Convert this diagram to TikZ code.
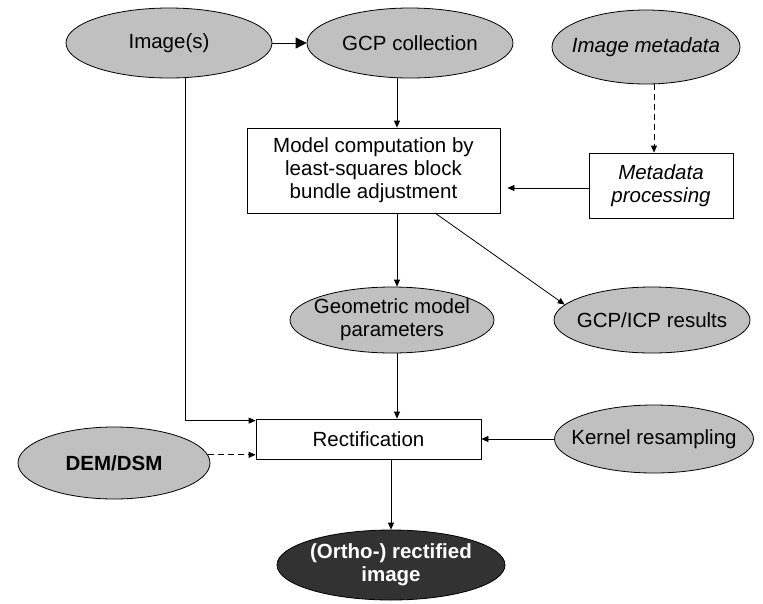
\documentclass[tikz,border=0pt]{standalone}
\usepackage{fontspec}
\setmainfont{Liberation Sans}
\usetikzlibrary{shapes.geometric,arrows.meta,calc}
\definecolor{ellgray}{RGB}{192,192,192}
\definecolor{darkell}{RGB}{50,50,50}
\begin{document}
\begin{tikzpicture}[x=1pt,y=-1pt,
  every node/.style={font=\fontsize{20.5}{23}\selectfont, align=center, inner sep=0pt},
  ell/.style={ellipse, draw=black, line width=0.8pt, fill=ellgray, inner xsep=-60pt, inner ysep=-25pt},
  darkellipse/.style={ellipse, draw=black, line width=0.8pt, fill=darkell, text=white, inner xsep=-60pt, inner ysep=-25pt, font=\fontsize{20.5}{23}\selectfont\bfseries},
  box/.style={rectangle, draw=black, line width=0.8pt, fill=white},
  arr/.style={line width=0.8pt, -{Triangle[length=7pt,width=6pt]}},
  bigarr/.style={line width=0.8pt, -{Triangle[length=11pt,width=11pt]}},
  dasharr/.style={line width=0.8pt, dash pattern=on 6pt off 4pt, -{Triangle[length=7pt,width=6pt]}}
]
\useasboundingbox (0,0) rectangle (763,603);
\fill[white] (0,0) rectangle (763,603);

\node[ell, minimum width=206, minimum height=70] (img) at (169,43) {Image(s)};
\node[ell, minimum width=206, minimum height=70] (gcp) at (410,43) {GCP collection};
\node[ell, minimum width=188, minimum height=74, font=\fontsize{20.5}{23}\selectfont\itshape] (meta) at (646,47) {Image metadata};
\node[box, minimum width=253, minimum height=85] (model) at (373.5,170.5) {Model computation by\\least-squares block\\bundle adjustment};
\node[box, minimum width=144, minimum height=65, font=\fontsize{20.5}{23}\selectfont\itshape] (mproc) at (661,185.5) {Metadata\\processing};
\node[ell, minimum width=204, minimum height=66] (geo) at (392,320) {Geometric model\\parameters};
\node[ell, minimum width=196, minimum height=66] (gcpicp) at (652,320) {GCP/ICP results};
\node[box, minimum width=225, minimum height=40] (rect) at (368.5,439) {Rectification};
\node[ell, minimum width=199, minimum height=68] (kern) at (654,439) {Kernel resampling};
\node[ell, minimum width=192, minimum height=72, font=\fontsize{20.5}{23}\selectfont\bfseries] (dem) at (114,463) {DEM/DSM};
\node[darkellipse, minimum width=228, minimum height=70] (ortho) at (391,565) {(Ortho-) rectified\\image};

\coordinate (imgout) at (185,77);
\coordinate (gcpout) at ($(gcp.south)+(-13,0)$);
\coordinate (metaout) at ($(meta.south)+(8,0)$);
\coordinate (diag) at (435,213);

\draw[bigarr] (img.east) -- (gcp.west);
\draw[arr] (gcpout) -- (gcpout |- model.north);
\draw[dasharr] (metaout) -- (metaout |- mproc.north);
\draw[arr, shorten >=7pt] (mproc.west |- 0,188) -- (model.east |- 0,188);
\draw[arr] (gcpout |- model.south) -- (gcpout |- geo.north);
\draw[arr] (diag) -- (gcpicp.170);
\draw[arr] (gcpout |- geo.south) -- (gcpout |- rect.north);
\draw[arr] (imgout) |- ($(rect.north west)+(0,2)$);
\draw[arr] (kern.west) -- (kern.west -| rect.east);
\draw[dasharr] (dem.5) -- (dem.5 -| rect.west);
\draw[arr] (ortho.north |- rect.south) -- (ortho.north);
\end{tikzpicture}
\end{document}
